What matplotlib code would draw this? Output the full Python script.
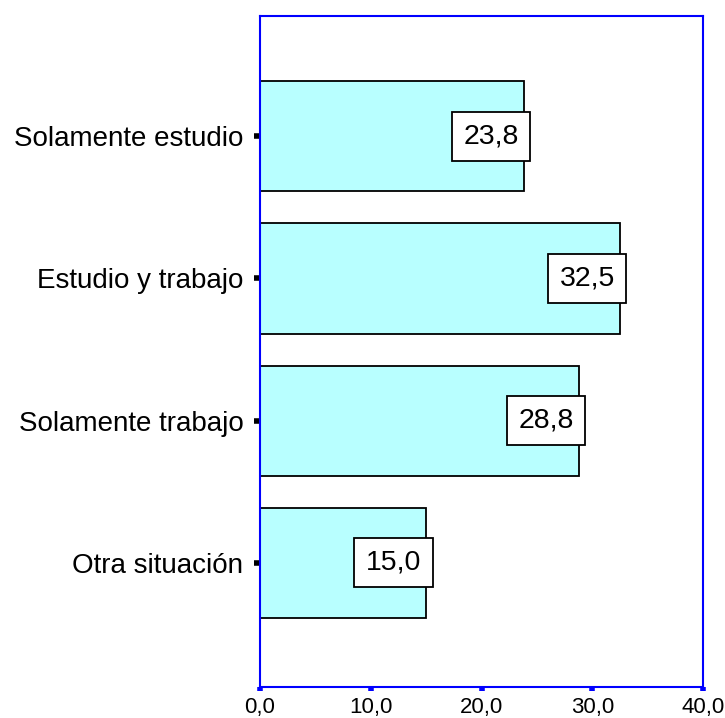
import matplotlib
matplotlib.use("Agg")
import matplotlib.pyplot as plt
from matplotlib.transforms import offset_copy

plt.rcParams['font.family'] = ['Liberation Sans', 'DejaVu Sans']

categories = ['Otra situación', 'Solamente trabajo', 'Estudio y trabajo', 'Solamente estudio']
values = [15.0, 28.8, 32.5, 23.8]
x_ticks = [0, 10, 20, 30, 40]
x_labels = ['0,0', '10,0', '20,0', '30,0', '40,0']

fig = plt.figure(figsize=(7.25, 7.18), dpi=100)
ax = fig.add_axes([0.3586, 0.0432, 0.6111, 0.9345])

pos = list(range(len(categories)))
ax.barh(pos, values, height=0.775, color='#B8FFFF', edgecolor='black', linewidth=1.3)

# value boxes, right edge a bit past the bar end
trans = offset_copy(ax.transData, fig=fig, x=-5, y=0, units='dots')
for p, v in zip(pos, values):
    ax.text(v, p, f'{v:.1f}'.replace('.', ','), transform=trans, ha='right', va='center',
            fontsize=20.5, clip_on=False,
            bbox=dict(boxstyle='square,pad=0.4', fc='white', ec='black', lw=1.3))

ax.set_xlim(0, 40)
ax.set_ylim(-0.873, 3.845)
ax.set_xticks(x_ticks)
ax.set_xticklabels(x_labels, fontsize=16)
ax.set_yticks(pos)
ax.set_yticklabels(categories, fontsize=20)

for s in ax.spines.values():
    s.set_color('blue')
    s.set_linewidth(1.5)

ax.tick_params(axis='x', colors='blue', length=3, width=4, direction='out', pad=4, labelcolor='black')
ax.tick_params(axis='y', colors='black', length=4, width=4, direction='out', pad=8)

fig.savefig('out.png', dpi=100)
